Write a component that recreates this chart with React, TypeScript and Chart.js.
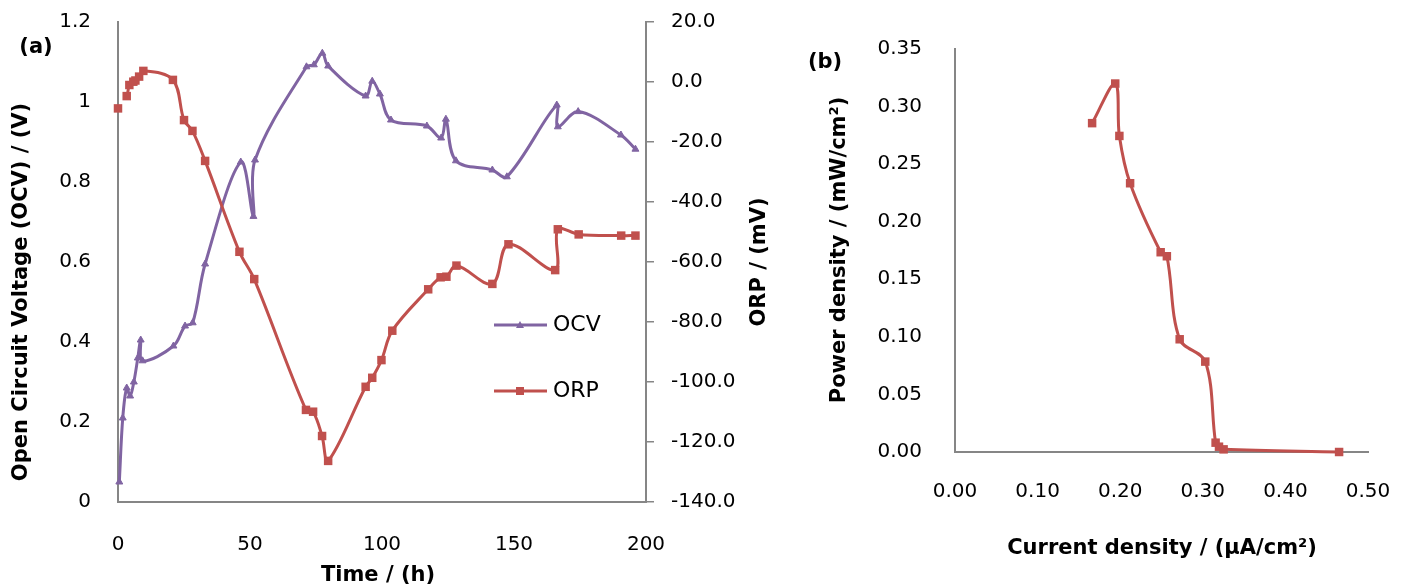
import React, { useEffect, useRef } from "react";
import { Chart, registerables } from "chart.js";

Chart.register(...registerables);

// ---------- Data: panel (a) ----------
const ocvTime = [0.5, 1.8, 3.3, 4.6, 6.0, 7.5, 8.6, 9.3, 21, 25.4, 28.3, 33, 46.5, 51.3, 51.9, 71.4, 74.2, 77.4, 79.6, 93.8, 96.3, 99.2, 103.4, 117, 122.4, 124.2, 128, 141.8, 147.3, 166.2, 166.6, 174.3, 190.5, 196];
const ocvValues = [0.05, 0.21, 0.285, 0.265, 0.3, 0.36, 0.405, 0.353, 0.39, 0.44, 0.448, 0.595, 0.85, 0.714, 0.855, 1.088, 1.093, 1.122, 1.09, 1.015, 1.052, 1.02, 0.955, 0.94, 0.91, 0.957, 0.853, 0.83, 0.813, 0.9925, 0.938, 0.976, 0.9175, 0.882];

const orpTime = [0, 3.3, 4.3, 5.8, 6.6, 8.0, 9.6, 20.8, 25.0, 28.2, 33.0, 46.0, 51.6, 71.2, 73.9, 77.3, 79.6, 93.8, 96.3, 99.8, 103.9, 117.5, 122.2, 124.4, 128.2, 141.8, 147.9, 165.6, 166.6, 174.5, 190.6, 196];
const orpValues = [-8.8, -4.7, -1.0, 0.1, 0.5, 1.8, 3.7, 0.7, -12.7, -16.3, -26.3, -56.6, -65.7, -109.3, -109.9, -118, -126.3, -101.6, -98.6, -92.7, -82.9, -69.1, -65.1, -64.9, -61.2, -67.3, -54.1, -62.7, -49.1, -50.8, -51.2, -51.2];

const timeTicks = [0, 50, 100, 150, 200];
const ocvTicks = [0, 0.2, 0.4, 0.6, 0.8, 1.0, 1.2];
const orpTicks = [-140, -120, -100, -80, -60, -40, -20, 0, 20];

// ---------- Data: panel (b) ----------
const currentDensity = [0.166, 0.194, 0.199, 0.212, 0.249, 0.2565, 0.272, 0.303, 0.3155, 0.3196, 0.3252, 0.465];
const powerDensity = [0.2856, 0.32, 0.2745, 0.2334, 0.1735, 0.17, 0.0979, 0.0785, 0.0081, 0.0046, 0.0023, 0.0];

const currentTicks = [0, 0.1, 0.2, 0.3, 0.4, 0.5];
const powerTicks = [0, 0.05, 0.1, 0.15, 0.2, 0.25, 0.3, 0.35];

// ---------- Styles ----------
const PURPLE = "#8064A2";
const RED = "#C0504D";
const AXIS = "#868686";
const FAMILY = "'DejaVu Sans', sans-serif";
const tickFont = { family: FAMILY, size: 20 };
const titleFont = `bold 21px ${FAMILY}`;

type Txt = { text: string; x: number; y: number; rot?: number; font: string; align?: CanvasTextAlign };
type Leg = { text: string; x: number; y: number; color: string; shape: "triangle" | "rect" };

function overlay(id: string, texts: Txt[], legends: Leg[]) {
  return {
    id,
    afterDraw(chart: any) {
      const ctx: CanvasRenderingContext2D = chart.ctx;
      ctx.save();
      ctx.fillStyle = "#000";
      ctx.textBaseline = "middle";
      for (const t of texts) {
        ctx.save();
        ctx.translate(t.x, t.y);
        if (t.rot) ctx.rotate(t.rot);
        ctx.font = t.font;
        ctx.textAlign = t.align || "center";
        ctx.fillStyle = "#000";
        ctx.fillText(t.text, 0, 0);
        ctx.restore();
      }
      for (const l of legends) {
        ctx.strokeStyle = l.color;
        ctx.lineWidth = 3;
        ctx.beginPath();
        ctx.moveTo(l.x, l.y);
        ctx.lineTo(l.x + 53, l.y);
        ctx.stroke();
        ctx.fillStyle = l.color;
        const cx = l.x + 26;
        if (l.shape === "rect") {
          ctx.fillRect(cx - 4, l.y - 4, 8, 8);
        } else {
          ctx.beginPath();
          ctx.moveTo(cx, l.y - 4);
          ctx.lineTo(cx + 4, l.y + 3);
          ctx.lineTo(cx - 4, l.y + 3);
          ctx.closePath();
          ctx.fill();
        }
        ctx.fillStyle = "#000";
        ctx.font = `22px ${FAMILY}`;
        ctx.textAlign = "left";
        ctx.fillText(l.text, l.x + 59, l.y);
      }
      ctx.restore();
    },
  };
}

const setTicks = (arr: number[]) => (s: any) => {
  s.ticks = arr.map((v) => ({ value: v }));
};

const fitBox = (w: number | null, h: number | null) => (s: any) => {
  if (w !== null) s.width = w;
  if (h !== null) s.height = h;
  s.paddingTop = 0;
  s.paddingBottom = 0;
  s.paddingLeft = 0;
  s.paddingRight = 0;
};

export default function App() {
  const refA = useRef<HTMLCanvasElement>(null);
  const refB = useRef<HTMLCanvasElement>(null);

  useEffect(() => {
    const chartA = new Chart(refA.current as HTMLCanvasElement, {
      type: "line",
      data: {
        datasets: [
          {
            label: "OCV",
            data: ocvTime.map((t, i) => ({ x: t, y: ocvValues[i] })),
            yAxisID: "y",
            borderColor: PURPLE,
            backgroundColor: PURPLE,
            borderWidth: 3,
            pointStyle: "triangle",
            pointRadius: 4,
            pointBorderWidth: 1,
            tension: 0.35,
            clip: false as any,
            order: 1,
          },
          {
            label: "ORP",
            data: orpTime.map((t, i) => ({ x: t, y: orpValues[i] })),
            yAxisID: "y1",
            borderColor: RED,
            backgroundColor: RED,
            borderWidth: 3,
            pointStyle: "rect",
            pointRadius: 6,
            pointBorderWidth: 0,
            tension: 0.35,
            clip: false as any,
            order: 0,
            segment: {
              borderColor: (c: any) => (c.p0DataIndex === 0 ? "rgba(0,0,0,0)" : undefined),
            },
          },
        ],
      },
      options: {
        responsive: false,
        animation: false,
        devicePixelRatio: 1,
        layout: { padding: { top: 22, left: 0, right: 0, bottom: 0 } },
        plugins: { legend: { display: false }, tooltip: { enabled: false } },
        scales: {
          x: {
            type: "linear",
            min: 0,
            max: 200,
            afterBuildTicks: setTicks(timeTicks),
            afterFit: fitBox(null, 86),
            grid: { display: false, drawTicks: false },
            border: { display: true, color: AXIS, width: 2 },
            ticks: { padding: 31, font: tickFont, color: "#000", maxRotation: 0, autoSkip: false },
          },
          y: {
            type: "linear",
            position: "left",
            min: 0,
            max: 1.2,
            afterBuildTicks: setTicks(ocvTicks),
            afterFit: fitBox(118, null),
            grid: { display: false, drawTicks: false },
            border: { display: true, color: AXIS, width: 2 },
            ticks: {
              padding: 27,
              font: tickFont,
              color: "#000",
              callback: (v: any) => String(Number(Number(v).toFixed(1))),
            },
          },
          y1: {
            type: "linear",
            position: "right",
            min: -140,
            max: 20,
            afterBuildTicks: setTicks(orpTicks),
            afterFit: fitBox(144, null),
            grid: { display: true, drawOnChartArea: false, drawTicks: true, tickLength: 8, color: AXIS, lineWidth: 1.5 },
            border: { display: true, color: AXIS, width: 2 },
            ticks: {
              padding: 17,
              font: tickFont,
              color: "#000",
              callback: (v: any) => Number(v).toFixed(1),
            },
          },
        },
      },
      plugins: [
        overlay(
          "overlayA",
          [
            { text: "(a)", x: 36, y: 48, font: titleFont },
            { text: "Open Circuit Voltage (OCV) / (V)", x: 22, y: 292, rot: -Math.PI / 2, font: titleFont },
            { text: "ORP / (mV)", x: 760, y: 262, rot: -Math.PI / 2, font: titleFont },
            { text: "Time / (h)", x: 378, y: 576, font: titleFont },
          ],
          [
            { text: "OCV", x: 494, y: 325, color: PURPLE, shape: "triangle" },
            { text: "ORP", x: 494, y: 391, color: RED, shape: "rect" },
          ]
        ) as any,
      ],
    } as any);

    const chartB = new Chart(refB.current as HTMLCanvasElement, {
      type: "line",
      data: {
        datasets: [
          {
            label: "Power density",
            data: currentDensity.map((c, i) => ({ x: c, y: powerDensity[i] })),
            borderColor: RED,
            backgroundColor: RED,
            borderWidth: 3,
            pointStyle: "rect",
            pointRadius: 6,
            pointBorderWidth: 0,
            tension: 0.35,
            clip: false as any,
          },
        ],
      },
      options: {
        responsive: false,
        animation: false,
        devicePixelRatio: 1,
        layout: { padding: { top: 49, left: 0, right: 34, bottom: 0 } },
        plugins: { legend: { display: false }, tooltip: { enabled: false } },
        scales: {
          x: {
            type: "linear",
            min: 0,
            max: 0.5,
            afterBuildTicks: setTicks(currentTicks),
            afterFit: fitBox(null, 136),
            grid: { display: false, drawTicks: false },
            border: { display: true, color: AXIS, width: 2 },
            ticks: {
              padding: 28,
              font: tickFont,
              color: "#000",
              maxRotation: 0,
              autoSkip: false,
              callback: (v: any) => Number(v).toFixed(2),
            },
          },
          y: {
            type: "linear",
            position: "left",
            min: 0,
            max: 0.35,
            afterBuildTicks: setTicks(powerTicks),
            afterFit: fitBox(165, null),
            grid: { display: false, drawTicks: false },
            border: { display: true, color: AXIS, width: 2 },
            ticks: {
              padding: 33,
              font: tickFont,
              color: "#000",
              callback: (v: any) => Number(v).toFixed(2),
            },
          },
        },
      },
      plugins: [
        overlay(
          "overlayB",
          [
            { text: "(b)", x: 35, y: 63, font: titleFont },
            { text: "Power density / (mW/cm²)", x: 50, y: 250, rot: -Math.PI / 2, font: titleFont },
            { text: "Current density / (µA/cm²)", x: 372, y: 549, font: titleFont },
          ],
          []
        ) as any,
      ],
    } as any);

    return () => {
      chartA.destroy();
      chartB.destroy();
    };
  }, []);

  return (
    <div style={{ position: "absolute", left: 0, top: 0, width: 1402, height: 588, background: "#fff" }}>
      <canvas ref={refA} width={790} height={588} style={{ position: "absolute", left: 0, top: 0 }} />
      <canvas ref={refB} width={612} height={588} style={{ position: "absolute", left: 790, top: 0 }} />
    </div>
  );
}
